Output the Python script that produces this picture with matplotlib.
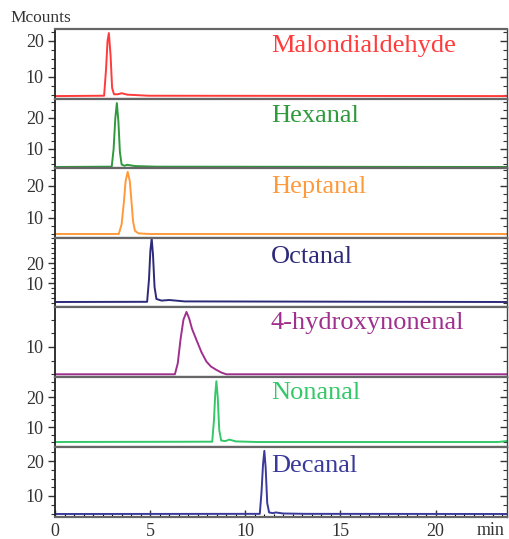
import matplotlib
matplotlib.use("Agg")
import matplotlib.pyplot as plt
from matplotlib.ticker import MultipleLocator, FixedLocator

plt.rcParams['font.family'] = ['Liberation Serif', 'DejaVu Serif']

# ---- data (retention time in min, intensity in Mcounts) ----
names = ["Malondialdehyde", "Hexanal", "Heptanal", "Octanal",
         "4-hydroxynonenal", "Nonanal", "Decanal"]
colors = ["#ff3b3b", "#2f9a3c", "#ff9a3a", "#2e2a7a",
          "#a0308e", "#35c86a", "#3a3a9a"]

mda_t = [0, 2.58, 2.68, 2.76, 2.83, 2.92, 3.00, 3.10, 3.30, 3.50, 3.80, 4.90, 23.7]
mda_v = [4.7, 4.8, 12, 20, 22.2, 16, 7, 5.2, 5.2, 5.5, 5.1, 4.8, 4.7]

hex_t = [0, 2.98, 3.08, 3.17, 3.25, 3.33, 3.41, 3.50, 3.65, 3.80, 4.20, 5.30, 23.7]
hex_v = [4.2, 4.3, 10, 20, 24.8, 19, 9, 5.0, 4.6, 4.9, 4.5, 4.3, 4.2]

hep_t = [0, 3.35, 3.50, 3.62, 3.71, 3.82, 3.93, 4.02, 4.10, 4.20, 4.38, 5.00, 23.7]
hep_v = [5.0, 5.0, 8, 15, 21.5, 24.4, 21.5, 15, 9, 6, 5.2, 5.0, 5.0]

oct_t = [0, 4.84, 4.94, 5.01, 5.08, 5.15, 5.23, 5.33, 5.60, 6.00, 6.80, 23.7]
oct_v = [0.5, 0.6, 12, 26, 32.3, 24, 8, 2.0, 1.2, 1.5, 0.8, 0.5]

hne_t = [0, 6.30, 6.45, 6.60, 6.75, 6.91, 7.05, 7.20, 7.43, 7.70, 7.96, 8.20, 8.48, 8.75, 9.00, 23.7]
hne_v = [5.0, 5.0, 7, 11.5, 15, 16.4, 15.2, 13.3, 11.3, 9.0, 7.3, 6.4, 5.8, 5.3, 5.0, 5.0]

non_t = [0, 8.26, 8.35, 8.42, 8.48, 8.55, 8.63, 8.73, 8.95, 9.16, 9.50, 10.60, 23.3, 23.7]
non_v = [5.0, 5.1, 12, 21, 25.3, 20, 9, 5.5, 5.3, 5.8, 5.2, 5.0, 5.0, 5.3]

dec_t = [0, 10.76, 10.85, 10.93, 11.00, 11.07, 11.15, 11.25, 11.45, 11.60, 12.00, 13.20, 23.7]
dec_v = [4.86, 4.9, 11, 19, 22.9, 18, 8, 5.3, 5.1, 5.3, 5.0, 4.9, 4.86]

traces = [(mda_t, mda_v), (hex_t, hex_v), (hep_t, hep_v), (oct_t, oct_v),
          (hne_t, hne_v), (non_t, non_v), (dec_t, dec_v)]

x_ticks = [0, 5, 10, 15, 20]
y_ticks = [10, 20]

# ---- layout ----
W, H = 510, 539
fig = plt.figure(figsize=(W / 100, H / 100), dpi=100)
edges = [29, 99, 168, 238, 307, 377, 447, 517]
ylims = [(3.89, 23.33), (3.87, 26.1), (3.75, 25.6), (-2.0, 32.5),
         (4.5, 17.3), (3.33, 26.7), (4.0, 24.0)]
label_base = [52, 122, 193, 263, 329, 399, 472]
xl, xr = 55, 507

for i in range(7):
    top, bot = edges[i], edges[i + 1]
    ax = fig.add_axes([xl / W, 1 - bot / H, (xr - xl) / W, (bot - top) / H])
    t, v = traces[i]
    ax.plot(t, v, color=colors[i], lw=1.4, solid_joinstyle='round')
    ax.set_xlim(0, 23.75)
    ax.set_ylim(*ylims[i])
    lo, hi = ylims[i]
    ax.yaxis.set_major_locator(FixedLocator([y for y in y_ticks if lo < y < hi]))
    ax.yaxis.set_minor_locator(MultipleLocator(2.5))
    ax.xaxis.set_major_locator(MultipleLocator(5))
    ax.xaxis.set_minor_locator(MultipleLocator(0.5))
    ax.tick_params(axis='y', which='both', left=True, right=True,
                   labelsize=13, colors='#333333', pad=3, direction='out')
    ax.tick_params(axis='y', which='major', length=5, width=1)
    ax.tick_params(axis='y', which='minor', length=3, width=0.8)
    for tk in ax.yaxis.get_major_ticks() + ax.yaxis.get_minor_ticks():
        tk.tick2line.set_marker(matplotlib.lines.TICKLEFT)
    for s in ('top', 'bottom'):
        ax.spines[s].set_color('#666666')
        ax.spines[s].set_linewidth(1.6)
    ax.spines['left'].set_color('#222222')
    ax.spines['left'].set_linewidth(1.3)
    ax.spines['right'].set_color('#444444')
    ax.spines['right'].set_linewidth(1.0)
    if i < 6:
        ax.tick_params(axis='x', which='both', bottom=False, labelbottom=False)
    else:
        ax.set_xticks(x_ticks)
        ax.tick_params(axis='x', which='major', direction='in', length=5,
                       width=1, labelsize=13, colors='#333333', pad=4)
        ax.tick_params(axis='x', which='minor', direction='in', length=2.5, width=0.8)
        ax.text(22.9, -0.07, "min", transform=ax.get_xaxis_transform(),
                ha='center', va='top', fontsize=13, color='#333333')
    ax.text(271 / W, 1 - label_base[i] / H, names[i], transform=fig.transFigure,
            ha='left', va='baseline', fontsize=19, color=colors[i])

fig.text(10 / W, 1 - 18 / H, "Mcounts", ha='left', va='center',
         fontsize=12.5, color='#333333')

fig.savefig("out.png", dpi=100)
